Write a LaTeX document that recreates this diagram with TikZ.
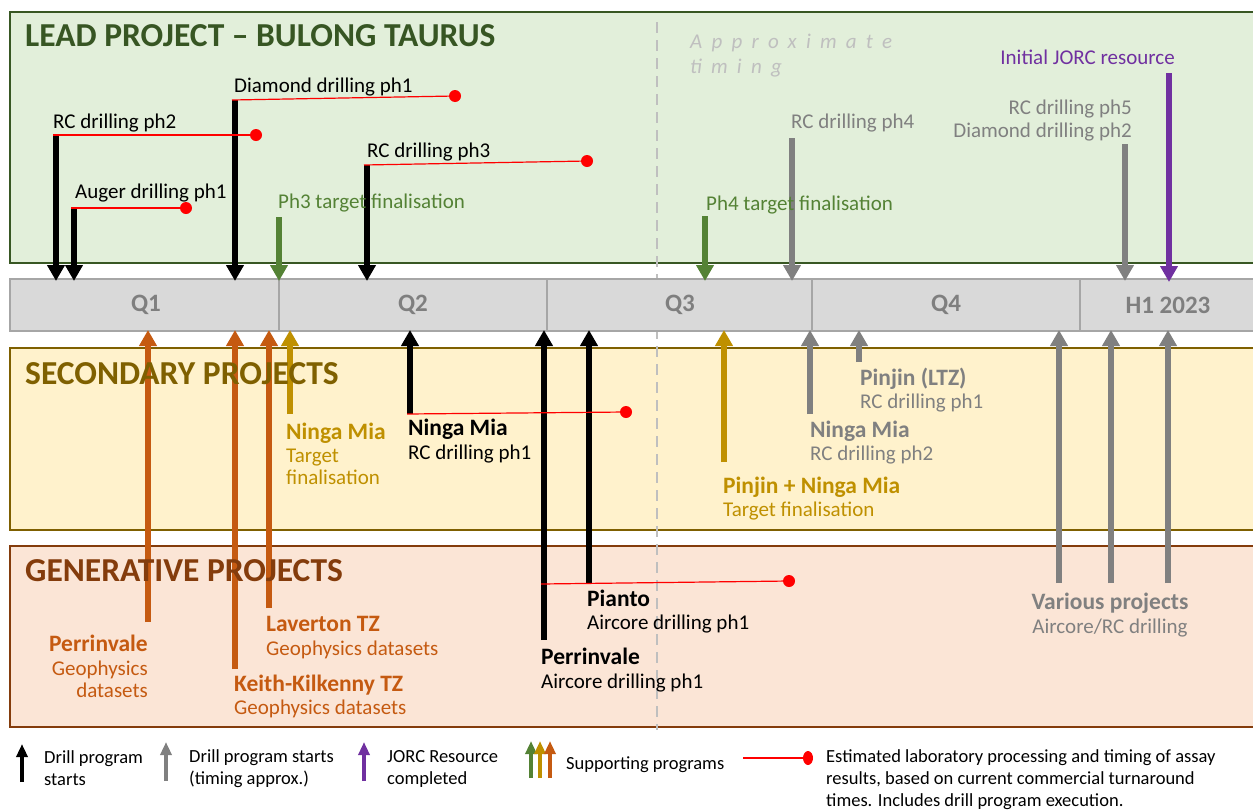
\documentclass[tikz,border=0pt]{standalone}
\usepackage{fontspec}
\setmainfont{Carlito}
\usetikzlibrary{arrows.meta}
\definecolor{leadfill}{HTML}{E2EFDA}
\definecolor{leadline}{HTML}{385723}
\definecolor{leadtitle}{HTML}{375623}
\definecolor{phgreen}{HTML}{548235}
\definecolor{secfill}{HTML}{FFF2CC}
\definecolor{secline}{HTML}{7F6000}
\definecolor{gold}{HTML}{BF9000}
\definecolor{genfill}{HTML}{FBE5D6}
\definecolor{genline}{HTML}{843C0C}
\definecolor{orng}{HTML}{C55A11}
\definecolor{gry}{HTML}{808080}
\definecolor{qgray}{HTML}{7F7F7F}
\definecolor{purp}{HTML}{7030A0}
\definecolor{barfill}{HTML}{D9D9D9}
\definecolor{barline}{HTML}{A6A6A6}
\definecolor{dashcol}{HTML}{BFBFBF}
\definecolor{redc}{HTML}{FF0000}
\tikzset{
  lbl/.style={inner sep=0pt, font=\fontsize{21}{24}\selectfont, anchor=base west},
  blbl/.style={inner sep=0pt, font=\fontsize{23.5}{26}\selectfont\bfseries, anchor=base west},
  arr/.style={line width=6pt, -{Triangle[width=17pt,length=16pt]}},
  larr/.style={line width=3.5pt, -{Triangle[width=11pt,length=13pt]}},
  redl/.style={draw=redc, line width=1.2pt},
  rdot/.style={circle, fill=redc, inner sep=0pt, minimum size=12pt},
  ldot/.style={ellipse, fill=redc, inner sep=0pt},
  leg/.style={inner sep=0pt, font=\fontsize{18.5}{21}\selectfont, anchor=base west},
  ttl/.style={inner sep=0pt, font=\fontsize{33.5}{36}\selectfont\bfseries, anchor=base west},
  qlbl/.style={inner sep=0pt, font=\fontsize{25}{28}\selectfont\bfseries, text=qgray},
  panel/.style={line width=2pt},
}
\usetikzlibrary{shapes.geometric}
\begin{document}
\begin{tikzpicture}[x=1pt,y=-1pt]
\useasboundingbox (0,0) rectangle (1253,809);
\clip (0,0) rectangle (1253,809);
% panels
\draw[panel, draw=leadline, fill=leadfill] (10,12) rectangle (1275,263);
\draw[panel, draw=secline, fill=secfill] (10,348) rectangle (1275,530);
\draw[panel, draw=genline, fill=genfill] (10,546) rectangle (1275,727);
% dashed divider
\coordinate (vtop) at (657,22);
\coordinate (vbot) at (657,730);
\draw[dashcol, line width=2.2pt, dash pattern=on 11pt off 7pt] (vtop) -- (vbot);
% timeline bar
\draw[fill=barfill, draw=barline, line width=2pt] (10,279) rectangle (1275,331);
\foreach \x in {279,547,812,1080} \draw[barline, line width=1.5pt] (\x,279) -- (\x,331);
\node[qlbl] (q1) at (146,305) {Q1};
\node[qlbl] (q2) at (413,305) {Q2};
\node[qlbl] (q3) at (680,305) {Q3};
\node[qlbl] (q4) at (946,305) {Q4};
\node[qlbl] (h1) at (1168,305) {H1 2023};
\node[inner sep=0pt, anchor=base west, text=dashcol, font=\fontsize{21}{24}\selectfont\itshape\addfontfeatures{LetterSpace=44}] (appr1) at (690,48) {Approximate};
\node[inner sep=0pt, anchor=base west, text=dashcol, font=\fontsize{21}{24}\selectfont\itshape\addfontfeatures{LetterSpace=44}] (appr2) at (690,73) {timing};
% ---- lead arrows (down)
\coordinate (a1s) at (56,135); \coordinate (a1e) at (56,281);
\coordinate (a2s) at (74,208); \coordinate (a2e) at (74,281);
\coordinate (a3s) at (235,100); \coordinate (a3e) at (235,281);
\coordinate (a4s) at (279,217); \coordinate (a4e) at (279,281);
\coordinate (a5s) at (367,165); \coordinate (a5e) at (367,281);
\coordinate (a6s) at (705,216); \coordinate (a6e) at (705,281);
\coordinate (a7s) at (792,138); \coordinate (a7e) at (792,281);
\coordinate (a8s) at (1125,144); \coordinate (a8e) at (1125,281);
\coordinate (a9s) at (1169,73); \coordinate (a9e) at (1169,282);
\draw[arr, black] (a1s) -- (a1e);
\draw[arr, black] (a2s) -- (a2e);
\draw[arr, black] (a3s) -- (a3e);
\draw[arr, phgreen] (a4s) -- (a4e);
\draw[arr, black] (a5s) -- (a5e);
\draw[arr, phgreen] (a6s) -- (a6e);
\draw[arr, gry] (a7s) -- (a7e);
\draw[arr, gry] (a8s) -- (a8e);
\draw[arr, purp] (a9s) -- (a9e);
% red lines lead
\node[rdot] (d1) at (256,135) {};
\node[rdot] (d2) at (186,208) {};
\node[rdot] (d3) at (455,96) {};
\node[rdot] (d5) at (587,161) {};
\draw[redl] ([xshift=-3pt]a1s) -- (d1.center);
\draw[redl] ([xshift=-3pt]a2s) -- (d2.center);
\draw[redl] ([xshift=-3pt]a3s) -- (d3.center);
\draw[redl] ([xshift=-3pt]a5s) -- (d5.center);
% lead labels
\node[lbl] (l3) at (234,92) {Diamond drilling ph1};
\node[lbl] (l1) at (53,128) {RC drilling ph2};
\node[lbl] (l2) at (75,198) {Auger drilling ph1};
\node[lbl, text=phgreen] (l4) at (278,208) {Ph3 target finalisation};
\node[lbl] (l5) at (367,157) {RC drilling ph3};
\node[lbl, text=phgreen] (l6) at (706,210) {Ph4 target finalisation};
\node[lbl, text=gry] (l7) at (791,128) {RC drilling ph4};
\node[lbl, text=gry, anchor=base east] (l8a) at (1132,114) {RC drilling ph5};
\node[lbl, text=gry, anchor=base east] (l8b) at (1132,137) {Diamond drilling ph2};
\node[lbl, text=purp, anchor=base east] (l9) at (1175,64) {Initial JORC resource};
% ---- up arrows
\coordinate (b1s) at (148,622); \coordinate (b1e) at (148,330);
\coordinate (b2s) at (235,669); \coordinate (b2e) at (235,330);
\coordinate (b3s) at (269,608); \coordinate (b3e) at (269,330);
\coordinate (b4s) at (290,414); \coordinate (b4e) at (290,330);
\coordinate (b5s) at (410,414); \coordinate (b5e) at (410,330);
\coordinate (b6s) at (544,640); \coordinate (b6e) at (544,330);
\coordinate (b7s) at (589,583); \coordinate (b7e) at (589,330);
\coordinate (b8s) at (724,462); \coordinate (b8e) at (724,330);
\coordinate (b9s) at (810,414); \coordinate (b9e) at (810,330);
\coordinate (b10s) at (859,362); \coordinate (b10e) at (859,330);
\coordinate (b11s) at (1059,583); \coordinate (b11e) at (1059,330);
\coordinate (b12s) at (1111,583); \coordinate (b12e) at (1111,330);
\coordinate (b13s) at (1168,583); \coordinate (b13e) at (1168,330);
\draw[arr, orng] (b1s) -- (b1e);
\draw[arr, orng] (b2s) -- (b2e);
\draw[arr, orng] (b3s) -- (b3e);
\draw[arr, gold] (b4s) -- (b4e);
\draw[arr, black] (b5s) -- (b5e);
\draw[arr, black] (b6s) -- (b6e);
\draw[arr, black] (b7s) -- (b7e);
\draw[arr, gold] (b8s) -- (b8e);
\draw[arr, gry] (b9s) -- (b9e);
\draw[arr, gry] (b10s) -- (b10e);
\draw[arr, gry] (b11s) -- (b11e);
\draw[arr, gry] (b12s) -- (b12e);
\draw[arr, gry] (b13s) -- (b13e);
\node[rdot] (d5b) at (626,412) {};
\node[rdot] (d6) at (789,581) {};
\coordinate (b6r) at (541,584);
\draw[redl] ([xshift=-3pt]b5s) -- (d5b.center);
\draw[redl] (b6r) -- (d6.center);
% titles (on top of arrows)
\node[ttl, text=leadtitle] (tlead) at (25,46) {LEAD PROJECT – BULONG TAURUS};
\node[ttl, text=secline] (tsec) at (25,384) {SECONDARY PROJECTS};
\node[ttl, text=genline] (tgen) at (25,581) {GENERATIVE PROJECTS};
% secondary labels
\node[blbl, text=gold] (s1a) at (286,439) {Ninga Mia};
\node[lbl, text=gold] (s1b) at (286,462) {Target};
\node[lbl, text=gold] (s1c) at (286,484) {finalisation};
\node[blbl] (s2a) at (408,435) {Ninga Mia};
\node[lbl] (s2b) at (408,459) {RC drilling ph1};
\node[blbl, text=gold] (s3a) at (723,493) {Pinjin + Ninga Mia};
\node[lbl, text=gold] (s3b) at (723,516) {Target finalisation};
\node[blbl, text=gry] (s4a) at (810,437) {Ninga Mia};
\node[lbl, text=gry] (s4b) at (810,460) {RC drilling ph2};
\node[blbl, text=gry] (s5a) at (860,385) {Pinjin (LTZ)};
\node[lbl, text=gry] (s5b) at (860,408) {RC drilling ph1};
% generative labels
\node[blbl, text=orng, anchor=base east] (g1a) at (148,651) {Perrinvale};
\node[lbl, text=orng, anchor=base east] (g1b) at (148,675) {Geophysics};
\node[lbl, text=orng, anchor=base east] (g1c) at (148,697) {datasets};
\node[blbl, text=orng] (g2a) at (234,691) {Keith-Kilkenny TZ};
\node[lbl, text=orng] (g2b) at (234,714) {Geophysics datasets};
\node[blbl, text=orng] (g3a) at (266,631) {Laverton TZ};
\node[lbl, text=orng] (g3b) at (266,655) {Geophysics datasets};
\node[blbl] (g4a) at (587,606) {Pianto};
\node[lbl] (g4b) at (587,629) {Aircore drilling ph1};
\node[blbl] (g5a) at (541,664) {Perrinvale};
\node[lbl] (g5b) at (541,688) {Aircore drilling ph1};
\node[blbl, text=gry, anchor=base] (g6a) at (1110,609) {Various projects};
\node[lbl, text=gry, anchor=base] (g6b) at (1110,633) {Aircore/RC drilling};
% ---- legend
\coordinate (k1s) at (22,782); \coordinate (k1e) at (22,744);
\coordinate (k2s) at (166,781); \coordinate (k2e) at (166,742);
\coordinate (k3s) at (364,781); \coordinate (k3e) at (364,742);
\coordinate (k4s) at (531,778); \coordinate (k4e) at (531,741);
\coordinate (k5s) at (540,778); \coordinate (k5e) at (540,741);
\coordinate (k6s) at (550,778); \coordinate (k6e) at (550,741);
\draw[larr, black] (k1s) -- (k1e);
\draw[larr, gry] (k2s) -- (k2e);
\draw[larr, purp] (k3s) -- (k3e);
\draw[larr, phgreen] (k4s) -- (k4e);
\draw[larr, gold] (k5s) -- (k5e);
\draw[larr, orng] (k6s) -- (k6e);
\coordinate (k7s) at (743,758);
\node[ldot, minimum width=10pt, minimum height=14pt] (k7d) at (808,758) {};
\draw[redl] (k7s) -- (k7d.center);
\node[leg] (t1a) at (44,763) {Drill program};
\node[leg] (t1b) at (44,785) {starts};
\node[leg] (t2a) at (189,762) {Drill program starts};
\node[leg] (t2b) at (189,784) {(timing approx.)};
\node[leg] (t3a) at (387,762) {JORC Resource};
\node[leg] (t3b) at (387,784) {completed};
\node[leg] (t4) at (566,769) {Supporting programs};
\node[leg] (t5a) at (826,762) {Estimated laboratory processing and timing of assay};
\node[leg] (t5b) at (826,784) {results, based on current commercial turnaround};
\node[leg] (t5c) at (826,806) {times. Includes drill program execution.};
\end{tikzpicture}
\end{document}
